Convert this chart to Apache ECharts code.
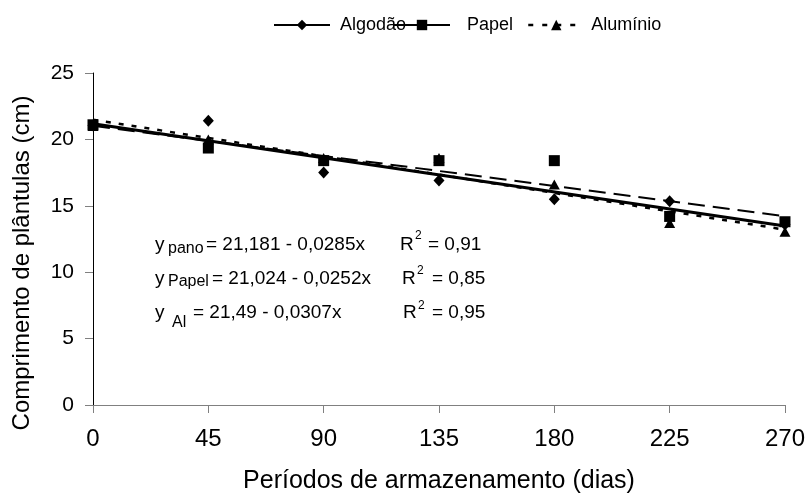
<!DOCTYPE html>
<html>
<head>
<meta charset="utf-8">
<script src="https://cdn.jsdelivr.net/npm/echarts@6/dist/echarts.min.js"></script>
<style>
  html, body { margin: 0; padding: 0; background: #fff; }
  #chart { width: 808px; height: 499px; }
</style>
</head>
<body>
<div id="chart"></div>
<script>
// Storage periods (days) on the x axis
const days = [0, 45, 90, 135, 180, 225, 270];

// Seedling length (cm) per packaging
const algodao  = [21.05, 21.4, 17.5, 16.9, 15.5, 15.35, 13.6];
const papel    = [21.1, 19.35, 18.4, 18.4, 18.4, 14.2, 13.8];
const aluminio = [21.0, 20.0, 18.6, 18.6, 16.6, 13.7, 13.05];

// Fitted linear regressions y = a - b·x
const fitNames      = ['pano', 'Papel', 'Al'];
const fitIntercepts = [21.181, 21.024, 21.49];
const fitSlopes     = [0.0285, 0.0252, 0.0307];
const fitR2         = [0.91, 0.85, 0.95];

// Axis ticks
const xTickValues = [0, 45, 90, 135, 180, 225, 270];
const yTickValues = [0, 5, 10, 15, 20, 25];

const FONT = '"Liberation Sans", Arial, sans-serif';

const pairs = vals => days.map((d, i) => [d, vals[i]]);
const fitLine = i => {
  const x0 = days[0], x1 = days[days.length - 1];
  return [[x0, fitIntercepts[i] - fitSlopes[i] * x0], [x1, fitIntercepts[i] - fitSlopes[i] * x1]];
};
const dec = v => String(v).replace('.', ',');

const chart = echarts.init(document.getElementById('chart'), null, { renderer: 'canvas' });

// Regression equation annotations
const eqRows = [
  { cy: 245, subX: 168, subDy: 4,  eqX: 206, rX: 400, supDy: -9, valX: 428 },
  { cy: 279, subX: 168, subDy: 3,  eqX: 212, rX: 402, supDy: -8, valX: 432 },
  { cy: 313, subX: 172, subDy: 10, eqX: 193, rX: 403, supDy: -7, valX: 432 }
];
const graphics = [];
eqRows.forEach((r, i) => {
  const base = { fill: '#000', fontFamily: FONT, verticalAlign: 'middle', align: 'left' };
  graphics.push({ type: 'text', style: Object.assign({}, base, { text: 'y', x: 155, y: r.cy, fontSize: 19 }) });
  graphics.push({ type: 'text', style: Object.assign({}, base, { text: fitNames[i], x: r.subX, y: r.cy + r.subDy, fontSize: 16 }) });
  graphics.push({ type: 'text', style: Object.assign({}, base, {
    text: '= ' + dec(fitIntercepts[i]) + ' - ' + dec(fitSlopes[i]) + 'x', x: r.eqX, y: r.cy, fontSize: 19 }) });
  graphics.push({ type: 'text', style: Object.assign({}, base, { text: 'R', x: r.rX, y: r.cy, fontSize: 19 }) });
  graphics.push({ type: 'text', style: Object.assign({}, base, { text: '2', x: r.rX + 15, y: r.cy + r.supDy, fontSize: 12 }) });
  graphics.push({ type: 'text', style: Object.assign({}, base, { text: '= ' + dec(fitR2[i]), x: r.valX, y: r.cy, fontSize: 19 }) });
});
// Y axis title
graphics.push({
  type: 'text', x: 22, y: 263, rotation: Math.PI / 2,
  style: { text: 'Comprimento de plântulas (cm)', fill: '#000', fontFamily: FONT, fontSize: 24,
           align: 'center', verticalAlign: 'middle' }
});

const legendBase = {
  top: 11, itemWidth: 56, itemHeight: 13, selectedMode: false,
  textStyle: { color: '#000', fontFamily: FONT, fontSize: 18 }
};

const option = {
  animation: false,
  backgroundColor: '#fff',
  grid: { left: 93, right: 21, top: 73, bottom: 89, containLabel: false },
  legend: [
    Object.assign({}, legendBase, { left: 268, textStyle: Object.assign({}, legendBase.textStyle, { padding: [0, 0, 0, 5] }),
      data: [{ name: 'Algodão', lineStyle: { width: 2, color: '#000', opacity: 1, type: 'solid' } }] }),
    Object.assign({}, legendBase, { left: 388, textStyle: Object.assign({}, legendBase.textStyle, { padding: [0, 0, 0, 12] }),
      data: [{ name: 'Papel', lineStyle: { width: 2, color: '#000', opacity: 1, type: 'solid' } }] }),
    Object.assign({}, legendBase, { left: 522, textStyle: Object.assign({}, legendBase.textStyle, { padding: [0, 0, 0, 2] }),
      data: [{ name: 'Alumínio', lineStyle: { width: 2.5, color: '#000', opacity: 1, type: [5, 9] } }] })
  ],
  xAxis: {
    type: 'value', min: 0, max: 270, interval: 45,
    name: 'Períodos de armazenamento (dias)', nameLocation: 'middle', nameGap: 64,
    nameTextStyle: { color: '#000', fontFamily: FONT, fontSize: 25 },
    axisLine: { show: true, lineStyle: { color: '#808080', width: 1 } },
    axisTick: { show: true, inside: false, length: 8, lineStyle: { color: '#808080' } },
    axisLabel: { color: '#000', fontFamily: FONT, fontSize: 24, margin: 22,
                 formatter: v => xTickValues.includes(v) ? String(v) : '' },
    splitLine: { show: false }
  },
  yAxis: {
    type: 'value', min: 0, max: 25, interval: 5,
    axisLine: { show: true, lineStyle: { color: '#000', width: 1 } },
    axisTick: { show: true, inside: false, length: 8, lineStyle: { color: '#808080' } },
    axisLabel: { color: '#000', fontFamily: FONT, fontSize: 21, margin: 19,
                 formatter: v => yTickValues.includes(v) ? String(v) : '' },
    splitLine: { show: false }
  },
  series: [
    // Regression lines
    { name: 'fit-al', type: 'line', data: fitLine(2), symbol: 'none', z: 2, silent: true,
      lineStyle: { color: '#000', width: 2.5, type: [5, 8] } },
    { name: 'fit-papel', type: 'line', data: fitLine(1), symbol: 'none', z: 2, silent: true,
      lineStyle: { color: '#000', width: 2, type: [17, 8] } },
    { name: 'fit-pano', type: 'line', data: fitLine(0), symbol: 'none', z: 3, silent: true,
      lineStyle: { color: '#000', width: 3, type: 'solid' } },
    // Observed means
    { name: 'Algodão', type: 'line', data: pairs(algodao), symbol: 'diamond', symbolSize: [11, 12], z: 5,
      itemStyle: { color: '#000' }, lineStyle: { width: 0, opacity: 0 } },
    { name: 'Papel', type: 'line', data: pairs(papel), symbol: 'rect', symbolSize: 11, z: 5,
      itemStyle: { color: '#000' }, lineStyle: { width: 0, opacity: 0 } },
    { name: 'Alumínio', type: 'line', data: pairs(aluminio), symbol: 'triangle', symbolSize: [11, 10], z: 4,
      itemStyle: { color: '#000' }, lineStyle: { width: 0, opacity: 0 } }
  ],
  graphic: graphics
};

chart.setOption(option);
</script>
</body>
</html>
